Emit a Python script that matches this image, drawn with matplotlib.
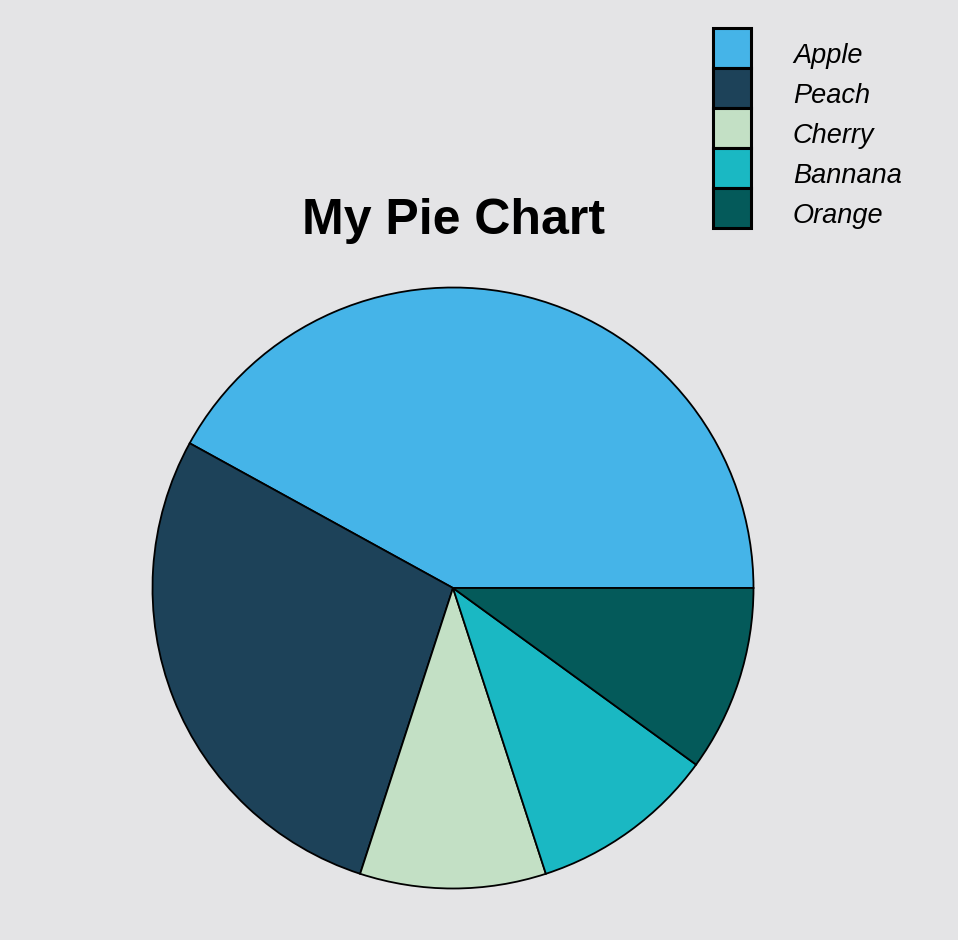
import matplotlib.pyplot as plt
from matplotlib.patches import Rectangle

labels = ["Apple", "Peach", "Cherry", "Bannana", "Orange"]
values = [42, 28, 10, 10, 10]
colors = ["#45b4e8", "#1d4259", "#c3e0c5", "#1ab8c3", "#045a5a"]

bg = "#e4e4e6"
W, H = 958, 940
fig = plt.figure(figsize=(W / 100, H / 100), dpi=100, facecolor=bg)

# pie axes: square box centred at (453, 588), radius ~300 px
ax = fig.add_axes([151 / W, 50 / H, 604 / W, 604 / H])
ax.set_facecolor(bg)
ax.pie(values, colors=colors, startangle=0, counterclock=True, radius=1,
       wedgeprops=dict(edgecolor="black", linewidth=1.3))
ax.set_xlim(-1.005, 1.005)
ax.set_ylim(-1.005, 1.005)
ax.set_aspect("equal")
ax.axis("off")

fig.text(453 / W, 1 - 234 / H, "My Pie Chart", ha="center", va="baseline",
         fontsize=36, fontweight="bold", family="Liberation Sans")

# legend drawn by hand: stacked swatches with italic labels
for i, (lab, col) in enumerate(zip(labels, colors)):
    top = 28 + 40 * i
    fig.patches.append(Rectangle((713 / W, 1 - (top + 40) / H), 38 / W, 40 / H,
                                 transform=fig.transFigure, facecolor=col,
                                 edgecolor="black", linewidth=2.2))
    fig.text(793 / W, 1 - (top + 35) / H, lab, ha="left", va="baseline",
             fontsize=19.5, style="italic", family="Liberation Sans")

fig.savefig("out.png", dpi=100, facecolor=bg)
